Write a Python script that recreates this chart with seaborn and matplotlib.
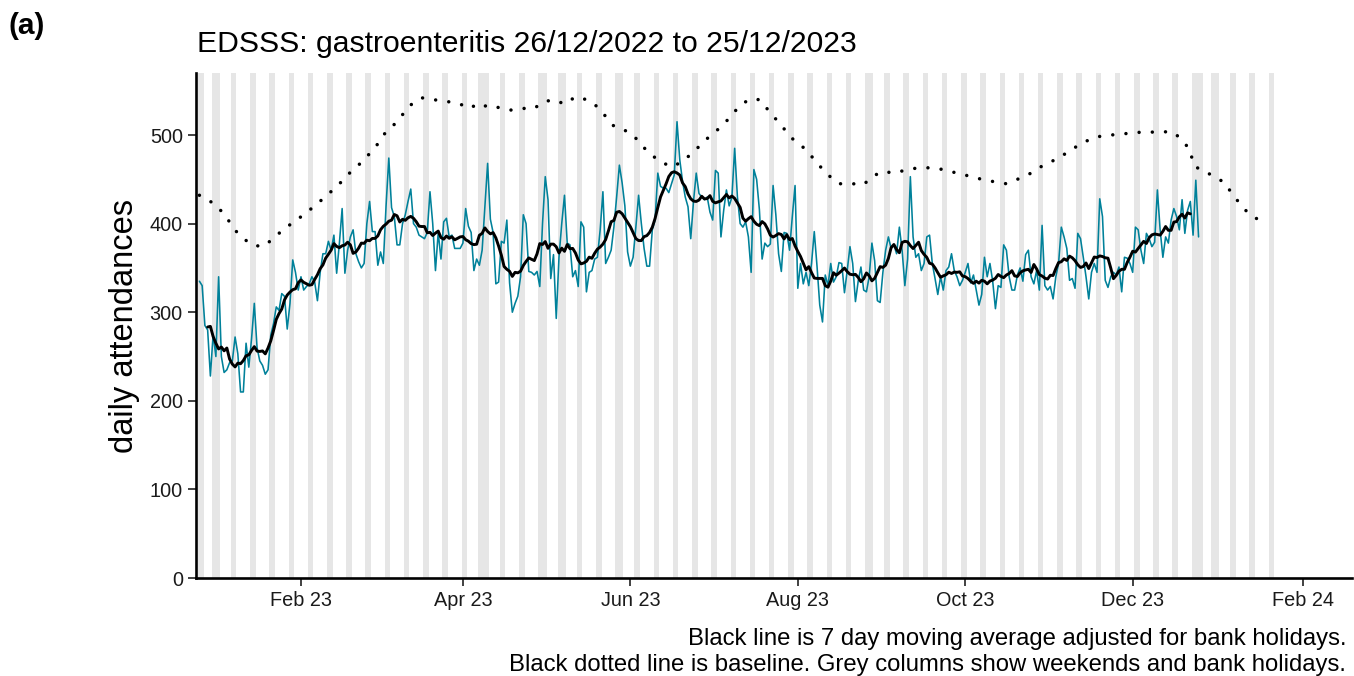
import numpy as np
import pandas as pd
import matplotlib
matplotlib.use("Agg")
import matplotlib.pyplot as plt
import matplotlib.dates as mdates
import seaborn as sns

# daily attendances, Mon 26/12/2022 .. Mon 25/12/2023 (one row per week)
start = "2022-12-26"
daily = (
    [335, 330, 285, 280, 228, 275, 250]
    + [340, 250, 232, 235, 243, 245, 272]
    + [253, 210, 210, 265, 238, 270, 310]
    + [260, 245, 240, 230, 235, 274, 287]
    + [306, 302, 321, 318, 281, 310, 359]
    + [345, 325, 340, 325, 329, 332, 340]
    + [334, 313, 345, 366, 366, 380, 370]
    + [387, 344, 378, 417, 344, 370, 385]
    + [393, 366, 357, 350, 355, 400, 425]
    + [391, 391, 353, 368, 355, 420, 474]
    + [418, 408, 376, 376, 400, 410, 425]
    + [439, 400, 396, 387, 385, 383, 390]
    + [436, 400, 347, 390, 360, 402, 406]
    + [385, 387, 372, 372, 372, 378, 417]
    + [397, 390, 347, 360, 353, 370, 420]
    + [468, 405, 390, 332, 334, 380, 378]
    + [404, 333, 300, 310, 318, 340, 410]
    + [400, 346, 345, 342, 346, 329, 400]
    + [453, 427, 338, 365, 293, 362, 400]
    + [432, 378, 376, 340, 347, 329, 402]
    + [396, 323, 345, 347, 360, 362, 393]
    + [436, 355, 362, 370, 396, 430, 466]
    + [446, 420, 368, 352, 362, 396, 432]
    + [400, 372, 352, 352, 393, 404, 457]
    + [442, 440, 440, 435, 445, 455, 515]
    + [472, 448, 430, 419, 383, 425, 457]
    + [434, 430, 427, 430, 413, 404, 460]
    + [457, 385, 415, 438, 420, 430, 485]
    + [430, 400, 396, 402, 385, 345, 461]
    + [450, 416, 360, 378, 374, 377, 443]
    + [410, 366, 346, 390, 389, 370, 408]
    + [443, 327, 355, 332, 345, 330, 355]
    + [391, 352, 308, 289, 342, 330, 355]
    + [334, 340, 356, 355, 322, 347, 374]
    + [355, 312, 335, 351, 325, 323, 340]
    + [378, 358, 313, 311, 345, 370, 385]
    + [372, 376, 366, 396, 370, 330, 360]
    + [453, 385, 362, 366, 347, 355, 385]
    + [387, 355, 338, 320, 340, 325, 347]
    + [351, 366, 347, 340, 330, 336, 345]
    + [355, 333, 342, 325, 308, 320, 362]
    + [340, 355, 335, 304, 330, 328, 376]
    + [370, 340, 325, 325, 342, 350, 335]
    + [365, 370, 340, 332, 347, 325, 398]
    + [330, 325, 329, 315, 340, 355, 396]
    + [385, 372, 336, 338, 327, 389, 383]
    + [362, 340, 315, 345, 355, 345, 428]
    + [408, 336, 328, 340, 345, 342, 351]
    + [323, 362, 361, 355, 345, 396, 393]
    + [370, 355, 389, 383, 374, 379, 438]
    + [393, 362, 385, 378, 404, 417, 408]
    + [393, 427, 389, 415, 425, 387, 449]
    + [385]
)

# baseline: days after 26/12/2022 and value
baseline_day = [0, 3, 6, 10, 12, 15, 19, 23, 27, 30, 34, 38, 42, 45, 49, 52, 55, 59,
                62, 65, 67, 71, 74, 77, 81, 85, 90, 95, 98, 101, 103, 105, 109, 113,
                118, 122, 125, 129, 133, 137, 141, 145, 148, 151, 154, 158, 161, 164,
                168, 172, 176, 180, 183, 186, 190, 193, 196, 200, 204, 207, 210, 213,
                216, 220, 223, 226, 229, 233, 238, 242, 245, 249, 253, 258, 262, 267,
                271, 276, 280, 285, 290, 294, 298, 303, 307, 311, 315, 319, 323, 327,
                332, 336, 341, 346, 350, 355, 358, 361, 362, 364, 368, 370, 374, 376,
                379, 382, 386, 389]
baseline_val = [432, 427, 421, 407, 396, 386, 376, 374, 383, 392, 401, 410, 420, 428,
                439, 448, 458, 469, 479, 490, 500, 512, 523, 534, 542, 540, 538, 535,
                530, 534, 531, 534, 531, 528, 530, 530, 537, 540, 535, 543, 540, 532,
                521, 510, 507, 500, 489, 479, 470, 464, 470, 481, 490, 499, 509, 519,
                530, 540, 540, 529, 518, 507, 496, 486, 476, 465, 455, 445, 445, 444,
                453, 459, 457, 461, 463, 463, 461, 457, 454, 450, 447, 445, 450, 457,
                465, 471, 478, 486, 493, 498, 500, 501, 503, 503, 504, 503, 494, 483,
                467, 462, 456, 453, 445, 434, 423, 412, 404, 400]

bank_holidays = ["2022-12-26", "2022-12-27", "2023-01-02", "2023-04-07", "2023-04-10",
                 "2023-05-01", "2023-05-08", "2023-05-29", "2023-08-28", "2023-12-25",
                 "2023-12-26", "2024-01-01"]
shade_end = "2024-01-21"
tick_dates = ["2023-02-01", "2023-04-01", "2023-06-01", "2023-08-01",
              "2023-10-01", "2023-12-01", "2024-02-01"]

teal = "#00819a"
grey_col = "#e6e6e6"

sns.set_theme(style="white")
plt.rcParams["font.family"] = ["Liberation Sans", "DejaVu Sans"]
plt.rcParams["text.color"] = "black"

t0 = pd.Timestamp(start)
dates = pd.date_range(start, periods=len(daily), freq="D")
df = pd.DataFrame({"date": dates, "count": daily})
df["ma"] = df["count"].rolling(7, center=True).mean()
base = pd.DataFrame({"date": t0 + pd.to_timedelta(baseline_day, unit="D"),
                     "baseline": baseline_val})

fig = plt.figure(figsize=(13.54, 6.76), dpi=100)
ax = fig.add_axes([196 / 1354, 1 - 578 / 676, (1352 - 196) / 1354, (578 - 73) / 676])

# grey columns for weekends and bank holidays
days = pd.date_range(start, shade_end, freq="D")
bh = set(pd.to_datetime(bank_holidays))
grey = [d for d in days if d.dayofweek >= 5 or d in bh]
runs = []
for d in grey:
    if runs and (d - runs[-1][1]).days == 1:
        runs[-1][1] = d
    else:
        runs.append([d, d])
for a, b in runs:
    ax.axvspan(mdates.date2num(a) - 0.5, mdates.date2num(b) + 0.5,
               color=grey_col, lw=0, zorder=0)

sns.lineplot(data=df, x="date", y="count", color=teal, lw=1.15, ax=ax, zorder=3)
sns.lineplot(data=df, x="date", y="ma", color="black", lw=2.1, ax=ax, zorder=4)
sns.lineplot(data=base, x="date", y="baseline", color="black", lw=2.5, ax=ax,
             linestyle=(0, (0.01, 3.8)), dash_capstyle="round", zorder=5)

ax.set_xlim(mdates.date2num(t0) - 1.24, mdates.date2num(t0) + 419.9)
ax.set_ylim(0, 570)
ax.set_yticks([0, 100, 200, 300, 400, 500])
ax.set_xticks(mdates.date2num(pd.to_datetime(tick_dates)))
ax.xaxis.set_major_formatter(mdates.DateFormatter("%b %y"))

for s in ["top", "right"]:
    ax.spines[s].set_visible(False)
for s in ["left", "bottom"]:
    ax.spines[s].set_color("black")
    ax.spines[s].set_linewidth(1.9)
ax.tick_params(axis="both", which="major", length=5.5, width=1.3, color="#333333",
               labelsize=14.3, labelcolor="#1a1a1a", pad=4, bottom=True, left=True)
ax.set_xlabel("")
ax.set_ylabel("")
fig.text(125 / 1354, 1 - 326 / 676, "daily attendances", fontsize=23.5,
         rotation=90, ha="center", va="center")

fig.text(8 / 1354, 1 - 34 / 676, "(a)", fontsize=21.5, fontweight="bold",
         ha="left", va="baseline")
fig.text(197 / 1354, 1 - 52 / 676, "EDSSS: gastroenteritis 26/12/2022 to 25/12/2023",
         fontsize=21.7, ha="left", va="baseline")
fig.text(1346 / 1354, 1 - 645 / 676,
         "Black line is 7 day moving average adjusted for bank holidays.",
         fontsize=17.2, ha="right", va="baseline")
fig.text(1346 / 1354, 1 - 671 / 676,
         "Black dotted line is baseline. Grey columns show weekends and bank holidays.",
         fontsize=17.2, ha="right", va="baseline")

fig.savefig("out.png", dpi=100)
